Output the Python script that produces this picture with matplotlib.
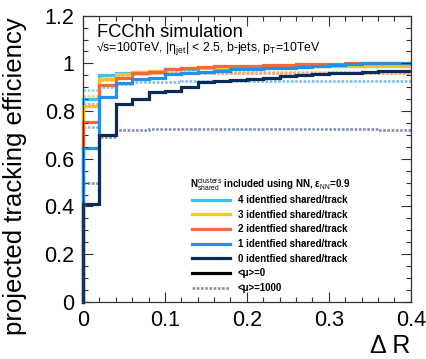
import numpy as np
import matplotlib
matplotlib.use("Agg")
import matplotlib.pyplot as plt
from matplotlib.lines import Line2D
from matplotlib.ticker import MultipleLocator, FuncFormatter

plt.rcParams['font.family'] = ['Liberation Sans', 'DejaVu Sans']
plt.rcParams['mathtext.fontset'] = 'custom'
plt.rcParams['mathtext.rm'] = 'Liberation Sans'
plt.rcParams['mathtext.it'] = 'Liberation Sans'
plt.rcParams['mathtext.bf'] = 'Liberation Sans:bold'

# bin edges in Delta R
edges = np.round(np.arange(0, 0.4001, 0.02), 3)

labels = ["4 identfied shared/track", "3 identfied shared/track",
          "2 identfied shared/track", "1 identfied shared/track",
          "0 identfied shared/track"]
colors = ["#3ec3f0", "#f7c51e", "#f26a3c", "#2490e8", "#0c2b57"]

# <mu>=0 (solid)
eff4_mu0 = [0.85, 0.95, 0.96, 0.965, 0.97, 0.975, 0.978, 0.98, 0.982, 0.984,
            0.985, 0.986, 0.987, 0.988, 0.989, 0.99, 0.99, 0.99, 0.99, 0.99]
eff3_mu0 = [0.82, 0.935, 0.955, 0.965, 0.97, 0.975, 0.98, 0.982, 0.984, 0.985,
            0.987, 0.988, 0.99, 0.99, 0.99, 0.99, 0.99, 0.99, 0.99, 0.99]
eff2_mu0 = [0.755, 0.91, 0.94, 0.958, 0.965, 0.975, 0.98, 0.985, 0.988, 0.99,
            0.99, 0.992, 0.995, 0.997, 0.998, 0.998, 1.0, 1.0, 1.0, 1.0]
eff1_mu0 = [0.645, 0.86, 0.916, 0.933, 0.94, 0.955, 0.96, 0.965, 0.97, 0.975,
            0.978, 0.98, 0.982, 0.985, 0.99, 0.995, 0.998, 1.0, 1.0, 1.0]
eff0_mu0 = [0.41, 0.70, 0.83, 0.85, 0.88, 0.885, 0.90, 0.92, 0.925, 0.93,
            0.935, 0.94, 0.945, 0.95, 0.955, 0.96, 0.96, 0.965, 0.97, 0.97]

# <mu>=1000 (dotted)
eff4_mu1000 = [0.89, 0.95, 0.955, 0.96, 0.96, 0.962, 0.962, 0.963, 0.963, 0.963,
               0.963, 0.963, 0.963, 0.963, 0.963, 0.962, 0.962, 0.962, 0.962, 0.962]
eff3_mu1000 = [0.865, 0.945, 0.955, 0.958, 0.96, 0.96, 0.96, 0.96, 0.96, 0.96,
               0.96, 0.96, 0.96, 0.96, 0.96, 0.96, 0.96, 0.96, 0.96, 0.96]
eff2_mu1000 = [0.83, 0.93, 0.95, 0.955, 0.958, 0.96, 0.96, 0.96, 0.96, 0.96,
               0.96, 0.96, 0.96, 0.96, 0.96, 0.96, 0.96, 0.96, 0.96, 0.96]
eff1_mu1000 = [0.735, 0.90, 0.915, 0.92, 0.92, 0.922, 0.924, 0.925, 0.925, 0.925,
               0.925, 0.925, 0.925, 0.925, 0.925, 0.925, 0.925, 0.925, 0.925, 0.925]
eff0_mu1000 = [0.50, 0.69, 0.72, 0.722, 0.725, 0.725, 0.725, 0.725, 0.725, 0.725,
               0.725, 0.725, 0.725, 0.725, 0.725, 0.725, 0.725, 0.723, 0.722, 0.72]

mu0 = [eff4_mu0, eff3_mu0, eff2_mu0, eff1_mu0, eff0_mu0]
mu1000 = [eff4_mu1000, eff3_mu1000, eff2_mu1000, eff1_mu1000, eff0_mu1000]
dot_colors = ["#8fdaf5", "#f9d86a", "#f5a585", "#7fbdf0", "#7f93b0"]

fig = plt.figure(figsize=(4.27, 3.59), dpi=100)
ax = fig.add_axes([0.1944, 0.1593, 0.7674, 0.797])

for vals, c in zip(mu1000, dot_colors):
    ax.stairs(vals, edges, color=c, lw=1.9, linestyle=(0, (1, 0.6)), baseline=None)
for vals, c in zip(mu0, colors):
    ax.stairs(vals, edges, color=c, lw=2.3, baseline=None)

# left edges at x=0 drawn down to 0
for vals, c in zip(mu0, colors):
    ax.plot([0, 0], [0, vals[0]], color=c, lw=2.3, clip_on=False)

ax.set_xlim(0, 0.4)
ax.set_ylim(0, 1.2)
ax.xaxis.set_major_locator(MultipleLocator(0.1))
ax.xaxis.set_minor_locator(MultipleLocator(0.02))
ax.yaxis.set_major_locator(MultipleLocator(0.2))
ax.yaxis.set_minor_locator(MultipleLocator(0.05))
ax.xaxis.set_major_formatter(FuncFormatter(lambda v, p: f"{v:g}"))
ax.yaxis.set_major_formatter(FuncFormatter(lambda v, p: f"{v:g}"))
ax.tick_params(which='both', direction='in', top=True, right=True, width=0.8, color='#333333')
ax.tick_params(which='major', length=7, labelsize=15.5)
ax.tick_params(axis='x', which='major', pad=6)
ax.tick_params(axis='y', which='major', pad=6)
ax.tick_params(which='minor', length=3.5)
for s in ax.spines.values():
    s.set_linewidth(0.9)
    s.set_color('#333333')

ax.set_ylabel("projected tracking efficiency", fontsize=18.5)
ax.yaxis.set_label_coords(-0.172, 0.44)
fig.text(0.962, 0.036, "Δ R", fontsize=18, ha='right', va='center')

fig.text(97/427, 1 - 37.3/359, "FCChh simulation", fontsize=13.2, ha='left', va='baseline')
fig.text(96/427, 1 - 51.5/359,
         r"√s=100TeV, |η$_{\rm jet}$| < 2.5, b-jets, p$_{\rm T}$=10TeV",
         fontsize=8.8, ha='left', va='baseline')

# legend header
fig.text(190/427, 1 - 185/359,
         r"N$^{\rm clusters}_{\rm shared}$ included using NN, ε$_{\rm NN}$=0.9",
         fontsize=7, fontweight='bold', ha='left', va='center')

handles = [Line2D([], [], color=c, lw=2.3) for c in colors]
handles.append(Line2D([], [], color='black', lw=2.3))
handles.append(Line2D([], [], color='#8a93a3', lw=1.9, linestyle=(0, (1, 0.6))))
leg_labels = labels + ["<μ>=0", "<μ>=1000"]
leg = fig.legend(handles, leg_labels, loc='upper left',
                 bbox_to_anchor=(190/427, 1 - 193/359),
                 frameon=False, prop={'size': 7, 'weight': 'bold'},
                 handlelength=3.9, handletextpad=0.85, labelspacing=0.48,
                 borderpad=0.2, borderaxespad=0)

fig.savefig("out.png", dpi=100)
